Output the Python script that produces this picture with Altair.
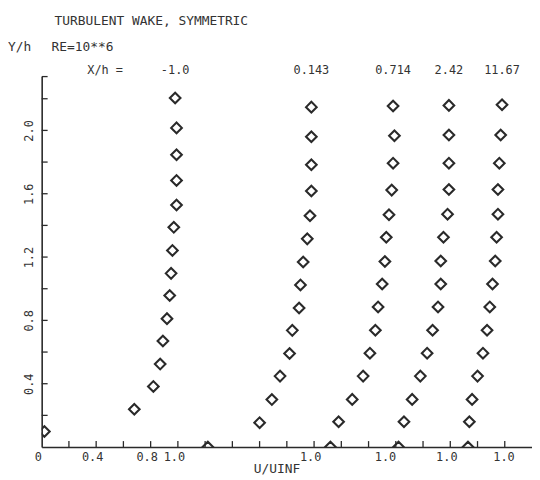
import altair as alt
import pandas as pd

# ---- data ----
stations = ["-1.0", "0.143", "0.714", "2.42", "11.67"]
offsets = [0.0, 1.0, 1.55, 2.0, 2.42]   # horizontal shift of each profile

y_p1 = [2.205, 2.016, 1.846, 1.684, 1.529, 1.388, 1.242, 1.097, 0.957, 0.811, 0.670, 0.524, 0.383, 0.239, 0.098]
u_p1 = [0.98, 0.99, 0.99, 0.99, 0.99, 0.97, 0.96, 0.95, 0.94, 0.92, 0.89, 0.87, 0.82, 0.68, 0.02]

y_p2 = [2.147, 1.960, 1.783, 1.617, 1.461, 1.315, 1.169, 1.024, 0.878, 0.737, 0.591, 0.448, 0.300, 0.154, 0.0]
u_p2 = [0.98, 0.98, 0.98, 0.98, 0.97, 0.95, 0.92, 0.90, 0.89, 0.84, 0.82, 0.75, 0.69, 0.60, 0.22]

y_p3 = [2.154, 1.966, 1.793, 1.623, 1.467, 1.325, 1.172, 1.030, 0.885, 0.738, 0.593, 0.448, 0.301, 0.160, 0.0]
u_p3 = [1.03, 1.04, 1.03, 1.02, 1.00, 0.98, 0.97, 0.95, 0.92, 0.90, 0.86, 0.81, 0.73, 0.63, 0.57]

y_p4 = [2.158, 1.971, 1.793, 1.627, 1.471, 1.325, 1.175, 1.030, 0.885, 0.738, 0.593, 0.448, 0.301, 0.160, 0.0]
u_p4 = [0.99, 0.99, 0.99, 0.99, 0.98, 0.95, 0.93, 0.93, 0.91, 0.87, 0.83, 0.78, 0.72, 0.66, 0.62]

y_p5 = [2.162, 1.971, 1.793, 1.627, 1.471, 1.325, 1.175, 1.030, 0.885, 0.738, 0.593, 0.448, 0.301, 0.160, 0.0]
u_p5 = [0.96, 0.95, 0.94, 0.93, 0.93, 0.92, 0.91, 0.89, 0.87, 0.85, 0.82, 0.78, 0.74, 0.72, 0.71]

x_tick_marks = [0.2, 0.4, 0.6, 0.8, 1.0, 1.2, 1.4, 1.6, 1.8, 2.0, 2.2, 2.4, 2.6, 2.8, 3.0, 3.2, 3.4]
y_tick_marks = [0.2, 0.4, 0.6, 0.8, 1.0, 1.2, 1.4, 1.6, 1.8, 2.0, 2.2, 2.34]
y_label_values = [0.4, 0.8, 1.2, 1.6, 2.0]
x_label_values = [0.0, 0.4, 0.8, 1.0] + [o + 1.0 for o in offsets[1:]]

X_MAX = 3.6
Y_MAX = 2.34

# ---- tables ----
ys_all = [y_p1, y_p2, y_p3, y_p4, y_p5]
us_all = [u_p1, u_p2, u_p3, u_p4, u_p5]
rows = []
for st, off, ys, us in zip(stations, offsets, ys_all, us_all):
    for yv, uv in zip(ys, us):
        rows.append({"station": st, "offset": off, "u": uv, "y": yv})
df = pd.DataFrame(rows)

lab_df = pd.DataFrame({
    "station": stations,
    "xl": [o + us[0] for o, us in zip(offsets, us_all)],
})
xt_df = pd.DataFrame({"v": x_tick_marks, "z": [0.0] * len(x_tick_marks)})
yt_df = pd.DataFrame({"v": y_tick_marks, "z": [0.0] * len(y_tick_marks)})

FONT = "DejaVu Sans Mono"
INK = "#2a2a2a"
TXT = "#333333"
FS = 13

x_scale = alt.Scale(domain=[0, X_MAX], nice=False, zero=False)
y_scale = alt.Scale(domain=[0, Y_MAX], nice=False, zero=False)

x_axis = alt.Axis(
    values=x_label_values,
    labelExpr="datum.value == 0 ? '0' : (datum.value <= 1.0 ? format(datum.value, '.1f') : '1.0')",
    title="U/UINF", titleFont=FONT, titleFontSize=FS, titleFontWeight="normal",
    titleColor=TXT, titleX=237, titleY=26, titleAlign="center", titleBaseline="alphabetic",
    ticks=False, tickSize=0, grid=False,
    domainColor=INK, domainWidth=1.6,
    labelFont=FONT, labelFontSize=FS - 1, labelColor=TXT, labelPadding=5,
    labelOffset=-4, labelFlush=False, labelOverlap=False,
)
y_axis = alt.Axis(
    values=y_label_values, format=".1f", title=None,
    ticks=False, tickSize=0, grid=False,
    domainColor=INK, domainWidth=1.6,
    labelFont=FONT, labelFontSize=FS - 1, labelColor=TXT, labelPadding=6,
    labelAngle=270, labelAlign="center", labelBaseline="bottom",
    labelFlush=False, labelOverlap=False,
)

points = alt.Chart(df).transform_calculate(
    xg="datum.u + datum.offset"
).mark_point(
    shape="diamond", filled=False, size=115, strokeWidth=2.1,
    color=INK, opacity=1, clip=True,
).encode(
    x=alt.X("xg:Q", scale=x_scale, axis=x_axis),
    y=alt.Y("y:Q", scale=y_scale, axis=y_axis),
)

# inward-pointing tick marks along both axes
x_ticks = alt.Chart(xt_df).mark_rule(
    color=INK, strokeWidth=1.3, y2Offset=-6
).encode(x=alt.X("v:Q"), y=alt.Y("z:Q"), y2=alt.Y2("z"))

y_ticks = alt.Chart(yt_df).mark_rule(
    color=INK, strokeWidth=1.3, x2Offset=6
).encode(y=alt.Y("v:Q"), x=alt.X("z:Q"), x2=alt.X2("z"))

station_labels = alt.Chart(lab_df).mark_text(
    font=FONT, fontSize=FS - 1, color=TXT, baseline="middle", align="center"
).encode(x=alt.X("xl:Q"), y=alt.value(-7), text="station:N")


def note(text, x, y, size=FS, align="left"):
    return alt.Chart(pd.DataFrame({"t": [text]})).mark_text(
        font=FONT, fontSize=size, color=TXT, baseline="middle", align=align
    ).encode(x=alt.value(x), y=alt.value(y), text="t:N")


chart = alt.layer(
    points, x_ticks, y_ticks, station_labels,
    note("TURBULENT WAKE, SYMMETRIC", 13, -56),
    note("Y/h", -34, -30),
    note("RE=10**6", 10, -30),
    note("X/h =", 46, -7, size=FS - 1),
).properties(
    width=495, height=374,
    autosize=alt.AutoSizeParams(type="none"),
    padding={"left": 34, "top": 67, "right": 0, "bottom": 28},
    background="white",
).configure_view(stroke=None)

chart.save("out.html", embed_options={"renderer": "svg", "actions": False})
